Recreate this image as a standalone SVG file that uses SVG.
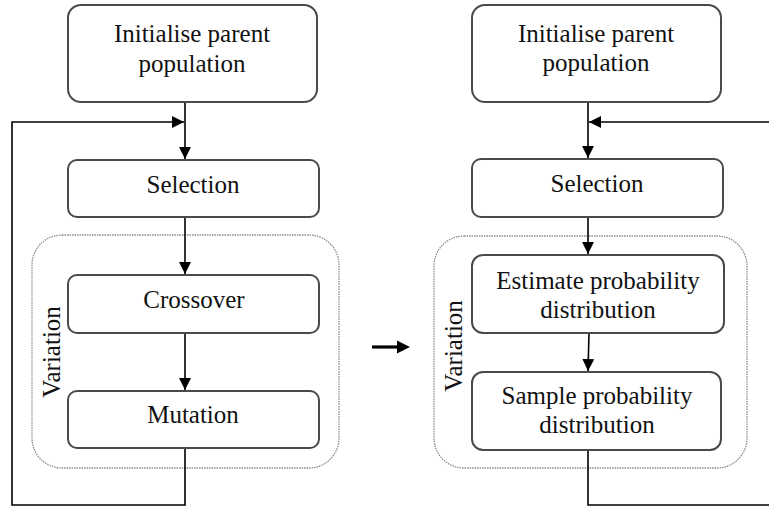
<svg xmlns="http://www.w3.org/2000/svg" width="769" height="509" viewBox="0 0 769 509">
<style>
.box{fill:#fff;stroke:#4a4a4a;stroke-width:2}
.grp{fill:none;stroke:#8a8a8a;stroke-width:1.3;stroke-dasharray:1.5 1}
.t{font-family:"Liberation Serif","Times New Roman",serif;font-size:25px;fill:#111;text-anchor:middle}
.c{fill:none;stroke:#000;stroke-width:1.6}
</style>
<defs>
<marker id="ah" viewBox="0 0 12 12" refX="12" refY="6" markerWidth="12" markerHeight="12" markerUnits="userSpaceOnUse" orient="auto">
<path d="M0,0 L12,6 L0,12 Z" fill="#000"/>
</marker>
</defs>
<rect width="769" height="509" fill="#fff"/>

<g id="variation-left">
<rect class="grp" x="32" y="235" width="307" height="233" rx="30"/>
<text class="t" transform="translate(60,352) rotate(-90)">Variation</text>
</g>
<g id="variation-right">
<rect class="grp" x="434" y="236" width="313" height="232" rx="30"/>
<text class="t" transform="translate(462,346) rotate(-90)">Variation</text>
</g>

<g id="connectors">
<line class="c" x1="185" y1="102" x2="185" y2="159" marker-end="url(#ah)"/>
<polyline class="c" points="185,448 185,505 12,505 12,122 184,122" marker-end="url(#ah)"/>
<line class="c" x1="185" y1="217" x2="185" y2="274" marker-end="url(#ah)"/>
<line class="c" x1="185" y1="333" x2="185" y2="390" marker-end="url(#ah)"/>
<line class="c" x1="588" y1="102" x2="588" y2="158" marker-end="url(#ah)"/>
<polyline class="c" points="588,450 588,505 770,505 770,122 589,122" marker-end="url(#ah)"/>
<line class="c" x1="588" y1="217" x2="588" y2="254" marker-end="url(#ah)"/>
<line class="c" x1="589" y1="333" x2="588" y2="371" marker-end="url(#ah)"/>
<line x1="372" y1="347" x2="400" y2="347" stroke="#000" stroke-width="3.2"/>
<polygon points="397,340.5 410,347 397,353.5" fill="#000"/>
</g>

<g id="init-left">
<rect class="box" x="68" y="5" width="249" height="97" rx="13"/>
<text class="t" x="192" y="42">Initialise parent</text>
<text class="t" x="192" y="72">population</text>
</g>
<g id="selection-left">
<rect class="box" x="68" y="160" width="251" height="57" rx="9"/>
<text class="t" x="193" y="193">Selection</text>
</g>
<g id="crossover">
<rect class="box" x="68" y="275" width="251" height="58" rx="9"/>
<text class="t" x="194" y="308">Crossover</text>
</g>
<g id="mutation">
<rect class="box" x="68" y="391" width="251" height="57" rx="9"/>
<text class="t" x="193" y="423">Mutation</text>
</g>

<g id="init-right">
<rect class="box" x="472" y="5" width="249" height="97" rx="13"/>
<text class="t" x="596" y="42">Initialise parent</text>
<text class="t" x="596" y="71">population</text>
</g>
<g id="selection-right">
<rect class="box" x="472" y="159" width="251" height="58" rx="9"/>
<text class="t" x="597" y="192">Selection</text>
</g>
<g id="estimate">
<rect class="box" x="472" y="255" width="252" height="78" rx="11"/>
<text class="t" x="598" y="289">Estimate probability</text>
<text class="t" x="598" y="318">distribution</text>
</g>
<g id="sample">
<rect class="box" x="472" y="372" width="249" height="78" rx="11"/>
<text class="t" x="597" y="404">Sample probability</text>
<text class="t" x="597" y="433">distribution</text>
</g>
</svg>
